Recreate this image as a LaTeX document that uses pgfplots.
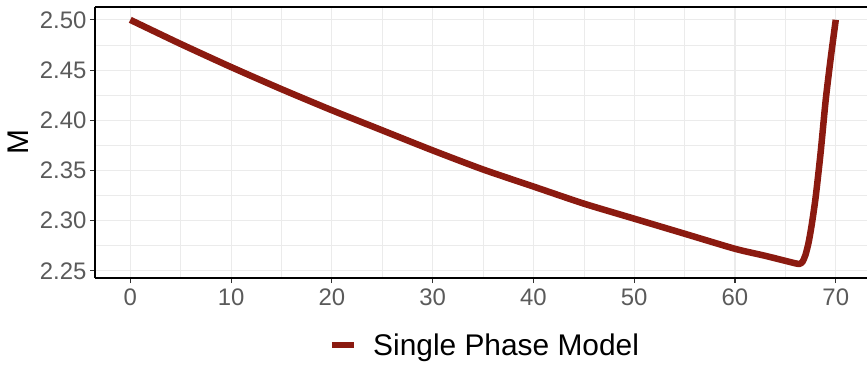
\documentclass[border=0pt]{standalone}
\usepackage{pgfplots}
\pgfplotsset{compat=1.18}
\usepackage{fontspec}
\setmainfont{Liberation Sans}
\definecolor{linered}{HTML}{8B1A10}
\definecolor{gridc}{HTML}{EBEBEB}
\definecolor{tickc}{HTML}{5A5A5A}
\begin{document}
\begin{tikzpicture}
\begin{axis}[
  name=ax,
  scale only axis,
  width=772bp, height=271bp,
  xmin=-3.5, xmax=73.1,
  ymin=2.2429, ymax=2.5128,
  axis x line=box, axis y line=left,
  axis line style={-, black, line width=1.1bp},
  xtick={0,10,...,70},
  ytick={2.25,2.30,2.35,2.40,2.45,2.50},
  minor xtick={5,15,25,35,45,55,65},
  minor ytick={2.275,2.325,2.375,2.425,2.475},
  xtick pos=bottom,
  tick align=outside,
  major tick length=5bp, minor tick length=0pt,
  tick style={color=black!80, line width=1.1bp},
  grid=both,
  major grid style={color=gridc, line width=1.1bp},
  minor grid style={color=gridc, line width=0.55bp},
  /pgf/number format/assume math mode=true,
  yticklabel style={/pgf/number format/fixed, /pgf/number format/precision=2, /pgf/number format/fixed zerofill, font=\fontsize{24}{27}\selectfont, color=tickc},
  xticklabel style={font=\fontsize{24}{27}\selectfont, color=tickc, yshift=-2bp},
  ylabel={M},
  every axis y label/.style={at={(rel axis cs:0,0.5)}, xshift=-77bp, anchor=center, rotate=90, font=\fontsize{30}{33}\selectfont, color=black},
  legend style={at={(0.505,-0.247)}, anchor=center, draw=none, fill=none,
    font=\fontsize{30}{33}\selectfont, legend columns=1,
    /tikz/every odd column/.append style={column sep=14bp}},
  legend image code/.code={\draw[line width=6.5bp, linered, line cap=butt] (0bp,0bp) -- (22bp,0bp);},
]
\addplot[linered, line width=6.5bp, smooth, tension=0.4] coordinates {
(0,2.500) (5,2.476) (10,2.453) (15,2.431) (20,2.410) (25,2.390) (30,2.370)
(35,2.351) (40,2.334) (45,2.317) (50,2.302) (55,2.287) (60,2.272) (63,2.265)
(65,2.260) (66,2.2575) (66.4,2.257) (66.7,2.259) (67.0,2.266) (67.3,2.278)
(67.6,2.295) (68.0,2.323) (68.5,2.368) (69.0,2.420) (69.5,2.462) (70.0,2.500)
};
\addlegendentry{Single Phase Model}
\end{axis}
\pgfresetboundingbox
\path (ax.south west) ++(-95bp,-87bp) coordinate (bl);
\path (ax.north east) ++(0bp,7bp) coordinate (tr);
\useasboundingbox (bl) rectangle (tr);
\end{tikzpicture}
\end{document}
